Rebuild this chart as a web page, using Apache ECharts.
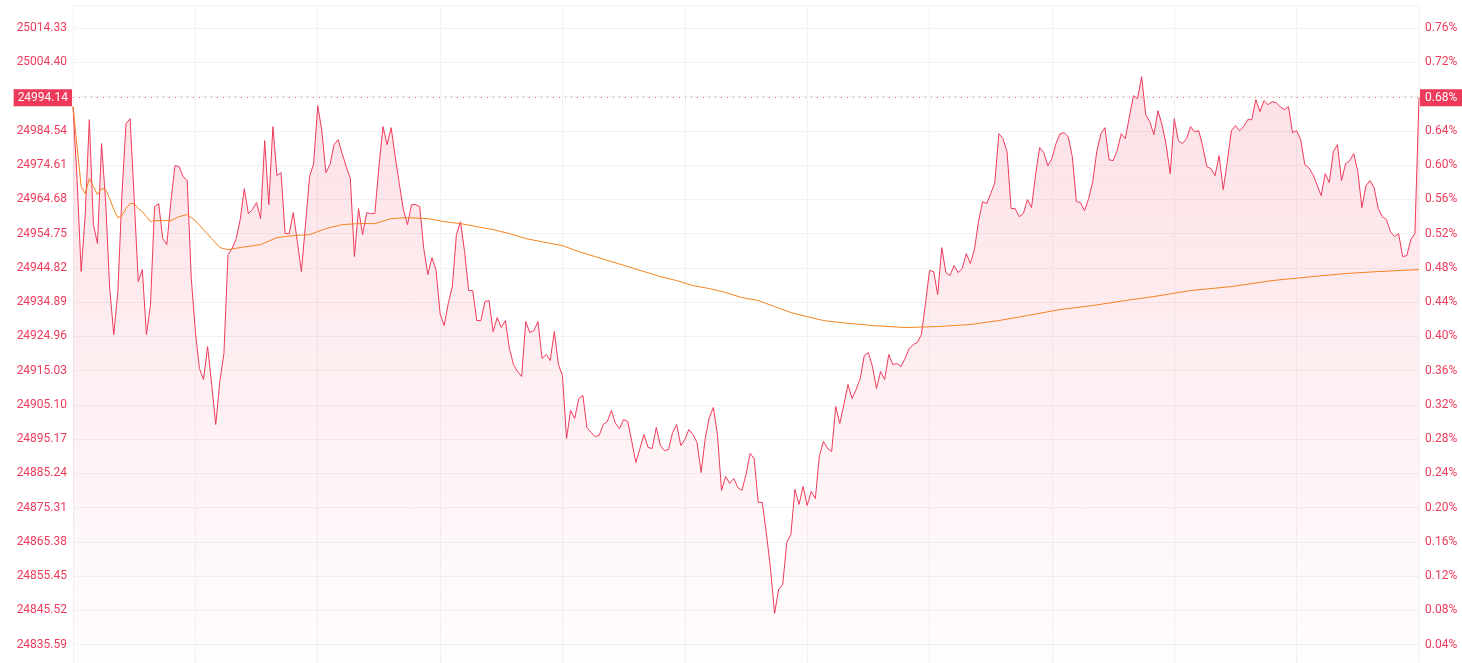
<!DOCTYPE html>
<html>
<head>
<meta charset="utf-8">
<script src="https://cdn.jsdelivr.net/npm/echarts@6/dist/echarts.min.js"></script>
<style>
html,body{margin:0;padding:0;overflow:hidden;background:#fff}
#c{width:1462px;height:700px}
</style>
</head>
<body>
<div id="c"></div>
<script>
// ---- data ----
const prevClose = 24825.657;
const lastPrice = 24994.14;
const axisMaxPrice = 25021.0;
const pctStep = 0.04;

const prices = [
24991.53,24970.39,24943.74,24960.25,24987.77,24957.35,24951.85,24980.82,24964.02,24938.81,
24925.49,24937.95,24966.04,24986.61,24988.06,24964.88,24940.84,24944.32,24925.49,24934.18,
24962.57,24963.44,24953.30,24951.56,24964.02,24974.44,24974.15,24971.26,24970.10,24941.71,
24926.36,24915.64,24912.45,24922.01,24911.01,24899.42,24911.88,24919.99,24948.66,24950.40,
24953.30,24958.80,24967.78,24960.54,24961.70,24963.73,24959.09,24981.69,24963.15,24985.74,
24971.55,24972.42,24954.75,24954.75,24960.83,24952.43,24943.74,24957.35,24971.26,24975.02,
24991.82,24984.58,24972.42,24974.73,24980.53,24981.98,24977.92,24974.15,24970.68,24948.08,
24961.99,24954.46,24960.83,24960.54,24960.54,24974.15,24985.74,24980.53,24985.45,24977.05,
24969.23,24961.70,24957.35,24963.15,24963.15,24962.57,24950.40,24942.87,24947.79,24944.32,
24931.57,24928.10,24934.47,24939.39,24954.46,24958.22,24949.53,24938.24,24938.24,24929.55,
24929.55,24935.05,24935.34,24926.36,24930.41,24927.52,24929.55,24921.43,24916.80,24914.77,
24913.32,24929.26,24926.07,24926.65,24929.26,24918.54,24919.70,24917.96,24926.36,24916.80,
24913.61,24895.36,24903.47,24901.16,24906.95,24907.82,24898.55,24897.10,24895.94,24896.23,
24899.42,24900.29,24903.47,24899.71,24898.26,24900.87,24900.29,24894.50,24888.41,24892.47,
24896.52,24892.76,24892.47,24898.55,24893.34,24891.89,24892.18,24897.10,24899.42,24893.34,
24895.07,24897.97,24896.52,24894.21,24885.52,24895.36,24901.45,24904.34,24896.52,24880.30,
24884.36,24882.33,24883.78,24881.17,24880.30,24884.94,24891.02,24889.57,24876.83,24876.83,
24867.85,24857.71,24844.67,24851.62,24853.07,24865.24,24867.56,24880.59,24876.25,24881.46,
24875.96,24880.01,24877.98,24890.44,24894.50,24892.47,24891.60,24904.63,24899.71,24905.21,
24911.01,24906.95,24909.56,24912.74,24919.41,24920.28,24916.22,24909.85,24914.77,24912.45,
24919.70,24916.80,24917.09,24916.22,24918.54,24921.43,24922.59,24923.17,24925.49,24934.47,
24944.03,24943.74,24937.08,24950.69,24943.45,24942.58,24945.48,24943.45,24944.61,24948.95,
24946.06,24950.11,24958.22,24964.02,24963.44,24966.33,24969.52,24983.71,24982.27,24978.50,
24961.99,24961.99,24959.67,24960.54,24964.60,24962.28,24971.84,24979.66,24978.21,24974.44,
24976.47,24980.82,24983.71,24984.00,24982.84,24977.05,24964.02,24963.73,24961.41,24964.88,
24969.81,24978.50,24983.71,24985.45,24976.18,24975.89,24978.79,24983.71,24982.27,24988.64,
24994.72,24993.85,25000.22,24989.22,24987.19,24983.42,24990.38,24986.32,24980.53,24972.13,
24988.06,24981.69,24980.82,24982.27,24985.74,24984.29,24984.58,24979.95,24974.15,24973.58,
24971.55,24977.34,24967.49,24975.60,24984.58,24986.03,24984.58,24985.74,24987.77,24987.77,
24993.56,24990.09,24993.27,24992.11,24992.98,24992.69,24991.53,24990.67,24991.53,24984.00,
24984.58,24981.98,24974.73,24973.86,24971.84,24968.94,24965.75,24972.13,24969.52,24978.50,
24980.53,24970.10,24975.02,24975.89,24977.92,24972.71,24962.28,24968.65,24970.10,24968.07,
24961.99,24959.67,24958.80,24955.33,24953.88,24954.75,24948.08,24948.37,24953.01,24954.75,
24994.14
];

// average-price line, read at these minute positions
const avgIndex = [0,1,2,3,4,5,6,7,8,9,10,11,12,13,14,15,16,17,18,19,20,22,24,26,28,30,32,34,36,38,
41,46,50,54,58,62,66,70,74,78,82,87,91,95,99,103,107,111,116,120,124,128,132,136,140,144,148,
152,156,160,164,168,172,176,180,184,188,196,204,212,220,227,234,242,250,258,265,274,284,294,304,312,320,330];
const avgValues = [24991.53,24979.95,24968.36,24966.33,24970.68,24968.36,24966.04,24967.78,24967.49,24964.88,
24961.70,24959.38,24959.96,24961.99,24963.44,24963.44,24961.99,24961.12,24959.67,24958.22,
24958.51,24958.51,24958.51,24959.67,24960.25,24958.51,24955.91,24953.30,24950.69,24950.11,
24950.69,24951.56,24953.59,24954.17,24954.46,24956.19,24957.35,24957.64,24957.64,24959.09,
24959.38,24959.09,24958.22,24957.64,24956.77,24955.91,24954.75,24953.30,24952.14,24951.27,
24949.53,24948.08,24946.64,24945.19,24943.74,24942.29,24941.13,24939.68,24938.81,24937.66,
24936.21,24935.34,24933.60,24931.86,24930.70,24929.55,24928.97,24928.10,24927.52,24927.81,
24928.39,24929.55,24930.99,24932.73,24933.89,24935.34,24936.50,24938.24,24939.39,24941.13,
24942.29,24943.16,24943.74,24944.32];

// trading minutes (HK session)
const times = [];
function addRange(h0, m0, h1, m1) {
  for (let t = h0 * 60 + m0; t <= h1 * 60 + m1; t++) {
    const h = Math.floor(t / 60), m = t % 60;
    times.push((h < 10 ? '0' : '') + h + ':' + (m < 10 ? '0' : '') + m);
  }
}
addRange(9, 30, 12, 0);
addRange(13, 1, 16, 0);

// ---- chart ----
const RED = '#ee3a5a';
const ORANGE = '#f5821f';
const avgData = prices.map(() => null);
avgIndex.forEach((idx, k) => { avgData[idx] = avgValues[k]; });
const pctOf = p => (p / prevClose - 1) * 100;

const chart = echarts.init(document.getElementById('c'), null, { renderer: 'canvas' });
const labelFont = { color: RED, fontSize: 12, fontFamily: 'Roboto' };

chart.setOption({
  animation: false,
  grid: { left: 73, right: 43, top: 5, height: 674 },
  xAxis: {
    type: 'category',
    data: times,
    boundaryGap: false,
    axisLine: { show: false },
    axisTick: { show: false },
    axisLabel: { show: false },
    splitLine: { show: true, interval: (i) => i % 30 === 0, lineStyle: { color: '#f2f2f2', width: 1 } }
  },
  yAxis: [
    {
      type: 'value',
      min: prevClose,
      max: axisMaxPrice,
      interval: prevClose * pctStep / 100,
      axisLine: { show: false },
      axisTick: { show: false },
      splitLine: { show: true, lineStyle: { color: '#f2f2f2', width: 1 } },
      axisLabel: Object.assign({}, labelFont, {
        margin: 6,
        showMaxLabel: false,
        formatter: v => {
          const k = Math.round(pctOf(v) / pctStep);
          return (prevClose * (1 + k * pctStep / 100)).toFixed(2);
        }
      })
    },
    {
      type: 'value',
      position: 'right',
      min: 0,
      max: pctOf(axisMaxPrice),
      interval: pctStep,
      axisLine: { show: false },
      axisTick: { show: false },
      splitLine: { show: false },
      axisLabel: Object.assign({}, labelFont, {
        margin: 6,
        showMaxLabel: false,
        formatter: v => v.toFixed(2) + '%'
      })
    }
  ],
  series: [
    {
      type: 'line',
      data: prices,
      yAxisIndex: 0,
      symbol: 'none',
      lineStyle: { color: RED, width: 1 },
      itemStyle: { color: RED },
      areaStyle: {
        color: new echarts.graphic.LinearGradient(0, 0, 0, 1, [
          { offset: 0, color: 'rgba(238,58,90,0.22)' },
          { offset: 1, color: 'rgba(238,58,90,0.01)' }
        ])
      },
      markLine: {
        silent: true,
        symbol: ['none', 'none'],
        lineStyle: { color: '#f06a82', type: [1, 5], width: 1 },
        label: {
          color: '#fff',
          backgroundColor: RED,
          fontSize: 12,
          fontFamily: 'Roboto',
          padding: [3, 4, 2, 4],
          distance: 1
        },
        data: [
          { yAxis: lastPrice, label: { position: 'start', formatter: lastPrice.toFixed(2) } },
          { yAxis: lastPrice, label: { position: 'end', formatter: pctOf(lastPrice).toFixed(2) + '%', padding: [3, 6, 2, 5] } }
        ]
      }
    },
    {
      type: 'line',
      data: avgData,
      yAxisIndex: 0,
      connectNulls: true,
      symbol: 'none',
      lineStyle: { color: ORANGE, width: 1 },
      itemStyle: { color: ORANGE }
    }
  ]
});
</script>
</body>
</html>
